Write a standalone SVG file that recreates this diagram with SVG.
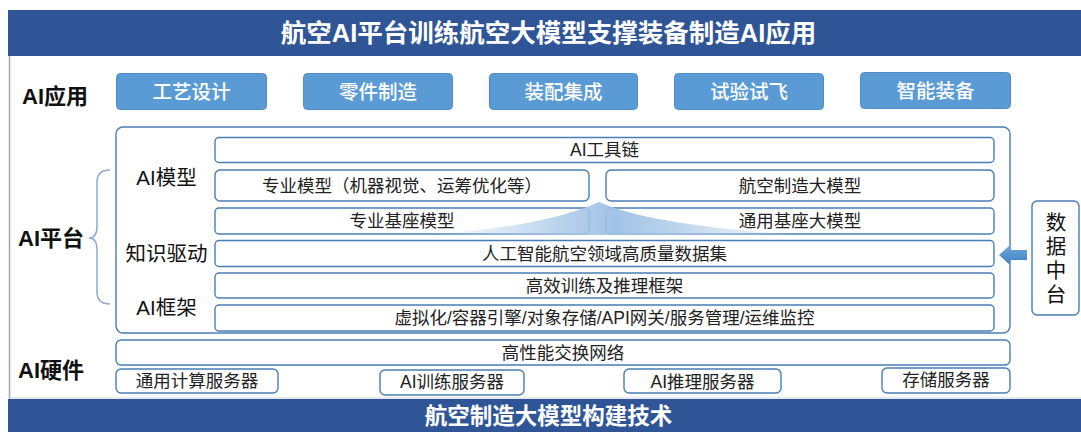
<svg xmlns="http://www.w3.org/2000/svg" width="1081" height="432" viewBox="0 0 1081 432">
<style>
text{font-family:"Liberation Sans","Noto Sans CJK SC",sans-serif;dominant-baseline:central;text-anchor:middle;}
.banner{fill:#2F5597;}
.btxt{fill:#fff;font-weight:bold;}
.app{fill:#5B9BD5;stroke:#4F8AC2;stroke-width:1;}
.apptxt{fill:#fff;font-size:19.5px;font-weight:500;}
.row{fill:#fff;stroke:#4A7DB5;stroke-width:1.4;}
.rtxt{fill:#222;font-size:17.5px;}
.lbl{fill:#111;font-size:20.5px;}
.sec{fill:#111;font-size:22px;font-weight:bold;text-anchor:start;}
</style>
<defs>
<linearGradient id="beam" x1="0" y1="0" x2="1" y2="0">
<stop offset="0" stop-color="#BDD7EE" stop-opacity="0"/>
<stop offset="0.35" stop-color="#A9C8E8" stop-opacity="0.8"/>
<stop offset="0.5" stop-color="#9DC0E4" stop-opacity="0.95"/>
<stop offset="0.65" stop-color="#A9C8E8" stop-opacity="0.8"/>
<stop offset="1" stop-color="#BDD7EE" stop-opacity="0"/>
</linearGradient>
<linearGradient id="arr" x1="0" y1="0" x2="0" y2="1">
<stop offset="0" stop-color="#6FA8DC"/>
<stop offset="1" stop-color="#3F7FBF"/>
</linearGradient>
</defs>
<rect width="1081" height="432" fill="#fff"/>
<line x1="9.5" y1="56" x2="9.5" y2="399" stroke="#9AA3CC" stroke-width="1.5"/>
<g id="title"><rect class="banner" x="8" y="10" width="1073" height="46"/><text class="btxt" x="548.5" y="33" font-size="25.5">航空AI平台训练航空大模型支撑装备制造AI应用</text></g>
<g id="footer"><line x1="8" y1="398" x2="1081" y2="398" stroke="#C9D1E6" stroke-width="1"/><rect class="banner" x="8" y="399" width="1073" height="33"/><text class="btxt" x="548.5" y="416" font-size="22.5">航空制造大模型构建技术</text></g>
<g id="sec-app"><text class="sec" x="22" y="96">AI应用</text></g>
<g id="sec-platform"><text class="sec" x="18" y="238">AI平台</text></g>
<g id="sec-hw"><text class="sec" x="18" y="370">AI硬件</text></g>
<g id="app1"><rect class="app" x="116.5" y="73.5" width="150" height="36" rx="4"/><text class="apptxt" x="191.5" y="92">工艺设计</text></g>
<g id="app2"><rect class="app" x="303.5" y="73.5" width="149" height="36" rx="4"/><text class="apptxt" x="378" y="92">零件制造</text></g>
<g id="app3"><rect class="app" x="489.5" y="73.5" width="148" height="36" rx="4"/><text class="apptxt" x="563.5" y="92">装配集成</text></g>
<g id="app4"><rect class="app" x="674.5" y="73.5" width="149" height="36" rx="4"/><text class="apptxt" x="749" y="92">试验试飞</text></g>
<g id="app5"><rect class="app" x="860.5" y="72.5" width="150" height="36" rx="4"/><text class="apptxt" x="935.5" y="91">智能装备</text></g>
<g id="platform"><rect x="116" y="127" width="894" height="206" rx="7" fill="#fff" stroke="#4A7DB5" stroke-width="1.4"/></g>
<g id="lbl-model"><text class="lbl" x="166.5" y="177">AI模型</text></g>
<g id="lbl-know"><text class="lbl" x="166.5" y="253">知识驱动</text></g>
<g id="lbl-frame"><text class="lbl" x="166.5" y="307">AI框架</text></g>
<g id="toolchain"><rect class="row" x="215" y="137.5" width="779" height="25" rx="4"/><text class="rtxt" x="604.5" y="150">AI工具链</text></g>
<g id="spec-model"><rect class="row" x="215" y="170" width="374" height="31" rx="5"/><text class="rtxt" x="402" y="185.5">专业模型（机器视觉、运筹优化等）</text></g>
<g id="aviation-model"><rect class="row" x="606" y="170" width="388" height="31" rx="5"/><text class="rtxt" x="800" y="185.5">航空制造大模型</text></g>
<g id="spec-base"><rect class="row" x="215" y="208" width="374" height="26" rx="4"/></g>
<g id="gen-base"><rect class="row" x="606" y="208" width="388" height="26" rx="4"/></g>
<path d="M420,235 C520,229 570,215 599,202 C628,215 690,229 810,235 Z" fill="url(#beam)"/>
<g id="spec-base-t"><text class="rtxt" x="402" y="221">专业基座模型</text></g>
<g id="gen-base-t"><text class="rtxt" x="800" y="221">通用基座大模型</text></g>
<g id="dataset"><rect class="row" x="215" y="240.5" width="779" height="26" rx="4"/><text class="rtxt" x="604.5" y="253.5">人工智能航空领域高质量数据集</text></g>
<g id="train"><rect class="row" x="215" y="273" width="779" height="25" rx="4"/><text class="rtxt" x="604.5" y="285.5">高效训练及推理框架</text></g>
<g id="infra"><rect class="row" x="215" y="305" width="779" height="26" rx="4"/><text class="rtxt" x="604.5" y="318">虚拟化/容器引擎/对象存储/API网关/服务管理/运维监控</text></g>
<g id="datahub"><rect class="row" x="1032" y="201" width="47" height="114" rx="5"/><text class="lbl" x="1056" y="222">数</text><text class="lbl" x="1056" y="246">据</text><text class="lbl" x="1056" y="270">中</text><text class="lbl" x="1056" y="294">台</text></g>
<g id="network"><rect class="row" x="116" y="340" width="894" height="25" rx="5"/><text class="rtxt" x="563" y="352.5">高性能交换网络</text></g>
<g id="srv1"><rect class="row" x="116" y="369" width="162" height="24" rx="5"/><text class="rtxt" x="197" y="381">通用计算服务器</text></g>
<g id="srv2"><rect class="row" x="380" y="370" width="144" height="25" rx="5"/><text class="rtxt" x="452" y="382">AI训练服务器</text></g>
<g id="srv3"><rect class="row" x="624" y="369" width="157" height="24" rx="5"/><text class="rtxt" x="702.5" y="381.5">AI推理服务器</text></g>
<g id="srv4"><rect class="row" x="882" y="368" width="128" height="25" rx="5"/><text class="rtxt" x="946" y="380">存储服务器</text></g>
<g id="connectors">
<path d="M110,170 Q97,170 97,182 L97,226 Q97,238 89,238 Q97,238 97,250 L97,292 Q97,304 110,304" fill="none" stroke="#8FAAD6" stroke-width="1.5"/>
<polygon points="1027,250 1010,250 1010,245 999,255 1010,265 1010,260 1027,260" fill="url(#arr)"/>
</g>
</svg>
